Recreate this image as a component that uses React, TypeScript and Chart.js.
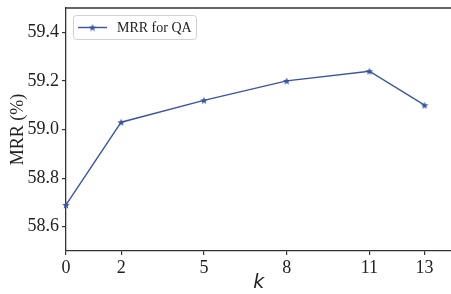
import React, { useEffect, useRef } from "react";
import { Chart, registerables } from "chart.js";

Chart.register(...registerables);

const kValues = [0, 2, 5, 8, 11, 13];
const mrrValues = [58.69, 59.03, 59.12, 59.2, 59.24, 59.1];
const xTicks = [0, 2, 5, 8, 11, 13];
const yTicks = [58.6, 58.8, 59.0, 59.2, 59.4];
const seriesLabel = "MRR for QA";
const xTitle = "k";
const yTitle = "MRR (%)";

const LINE_COLOR = "#3a53a4";
const AXIS_COLOR = "#333333";
const SERIF = "'Liberation Serif', 'Times New Roman', serif";

function makeStar(size: number, color: string): HTMLCanvasElement {
  const c = document.createElement("canvas");
  c.width = size;
  c.height = size;
  const ctx = c.getContext("2d")!;
  const cx = size / 2, cy = size / 2 + 0.4;
  const R = size / 2, r = R * 0.42;
  ctx.beginPath();
  for (let i = 0; i < 10; i++) {
    const ang = -Math.PI / 2 + (i * Math.PI) / 5;
    const rad = i % 2 === 0 ? R : r;
    const x = cx + rad * Math.cos(ang);
    const y = cy + rad * Math.sin(ang);
    if (i === 0) ctx.moveTo(x, y);
    else ctx.lineTo(x, y);
  }
  ctx.closePath();
  ctx.fillStyle = color;
  ctx.fill();
  return c;
}

export default function App() {
  const ref = useRef<HTMLCanvasElement>(null);

  useEffect(() => {
    if (!ref.current) return;
    const star = makeStar(8, LINE_COLOR);

    const framePlugin = {
      id: "frameAndLegend",
      afterDraw(chart: any) {
        const { ctx, chartArea } = chart;
        ctx.save();
        // top spine
        ctx.strokeStyle = AXIS_COLOR;
        ctx.lineWidth = 1.3;
        ctx.beginPath();
        ctx.moveTo(chartArea.left, chartArea.top);
        ctx.lineTo(chartArea.right + 10, chartArea.top);
        ctx.stroke();
        // legend
        const bx = chartArea.left + 7;
        const by = chartArea.top + 7;
        const bw = 123;
        const bh = 24;
        ctx.fillStyle = "rgba(255,255,255,0.85)";
        ctx.strokeStyle = "#d0d0d0";
        ctx.lineWidth = 1;
        ctx.beginPath();
        (ctx as any).roundRect(bx + 0.5, by + 0.5, bw, bh, 3);
        ctx.fill();
        ctx.stroke();
        const ly = by + bh / 2 + 0.5;
        ctx.strokeStyle = LINE_COLOR;
        ctx.lineWidth = 1.4;
        ctx.beginPath();
        ctx.moveTo(bx + 5, ly);
        ctx.lineTo(bx + 34, ly);
        ctx.stroke();
        ctx.drawImage(star, bx + 19.5 - 4, ly - 4);
        ctx.fillStyle = "#222";
        ctx.font = `14px ${SERIF}`;
        ctx.textBaseline = "middle";
        ctx.textAlign = "left";
        ctx.fillText(seriesLabel, bx + 44, ly + 1);
        ctx.restore();
      },
    };

    const chart = new Chart(ref.current, {
      type: "line",
      data: {
        datasets: [
          {
            label: seriesLabel,
            data: kValues.map((k, i) => ({ x: k, y: mrrValues[i] })),
            borderColor: LINE_COLOR,
            backgroundColor: LINE_COLOR,
            borderWidth: 1.4,
            pointStyle: star as any,
            pointRadius: 4,
            tension: 0,
            clip: false as any,
          },
        ],
      },
      options: {
        animation: false,
        responsive: false,
        layout: { padding: { top: 8, right: 0, left: 0, bottom: 0 } },
        plugins: { legend: { display: false }, tooltip: { enabled: false } },
        scales: {
          x: {
            type: "linear",
            min: 0,
            max: 13.98,
            afterBuildTicks: (s: any) => {
              s.ticks = xTicks.map((v) => ({ value: v }));
            },
            afterFit: (s: any) => {
              s.height = 43;
              s.paddingLeft = 0;
              s.paddingRight = 0;
            },
            ticks: {
              color: "#222",
              font: { family: SERIF, size: 18 },
              padding: 2,
              maxRotation: 0,
              autoSkip: false,
              callback: (v: any) => String(v),
            },
            grid: {
              drawOnChartArea: false,
              tickLength: 4,
              color: AXIS_COLOR,
              lineWidth: 1.2,
            },
            border: { display: true, color: AXIS_COLOR, width: 1.3 },
            title: {
              display: true,
              text: xTitle,
              color: "#222",
              font: { family: "'DejaVu Sans', sans-serif", size: 19, style: "italic" },
              padding: { top: -2, bottom: 0 },
            },
          },
          y: {
            type: "linear",
            min: 58.5,
            max: 59.5,
            afterBuildTicks: (s: any) => {
              s.ticks = yTicks.map((v) => ({ value: v }));
            },
            afterFit: (s: any) => {
              s.width = 66;
              s.paddingTop = 0;
              s.paddingBottom = 0;
            },
            ticks: {
              color: "#222",
              font: { family: SERIF, size: 18 },
              padding: 3,
              autoSkip: false,
              callback: (v: any) => Number(v).toFixed(1),
            },
            grid: {
              drawOnChartArea: false,
              tickLength: 4,
              color: AXIS_COLOR,
              lineWidth: 1.2,
            },
            border: { display: true, color: AXIS_COLOR, width: 1.3 },
            title: {
              display: true,
              text: yTitle,
              color: "#222",
              font: { family: SERIF, size: 18 },
              padding: { top: 7, bottom: 0 },
            },
          },
        },
      },
      plugins: [framePlugin],
    });
    return () => chart.destroy();
  }, []);

  return (
    <div style={{ position: "fixed", left: 0, top: 0, width: 451, height: 294, overflow: "hidden", background: "#fff" }}>
      <canvas ref={ref} width={457} height={294} style={{ display: "block", width: 457, height: 294 }} />
    </div>
  );
}
